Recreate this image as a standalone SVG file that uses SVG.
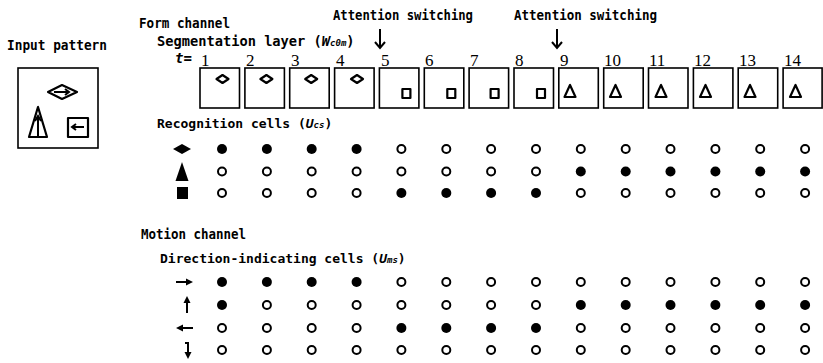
<svg xmlns="http://www.w3.org/2000/svg" width="823" height="363" viewBox="0 0 823 363">
  <style>
    .lbl{font-family:"DejaVu Sans Mono","Liberation Mono",monospace;font-weight:bold;font-size:14px;fill:#000}
    .sub{font-style:italic;font-size:9px}
    .it{font-style:italic}
    .num{font-family:"Liberation Serif",serif;font-size:17px;fill:#000}
    .box{fill:#fff;stroke:#000;stroke-width:1.6}
    .shp{fill:none;stroke:#000;stroke-width:2.2;stroke-linejoin:round}
    .ln{fill:none;stroke:#000;stroke-width:2}
    .on{fill:#000}
    .off{fill:#fff;stroke:#000;stroke-width:2}
  </style>
  <defs>
    <circle id="on" r="5" class="on"/>
    <circle id="off" r="4" class="off"/>
    <path id="dia" class="shp" d="M-6,0 L0,-4 L6,0 L0,4 Z"/>
    <rect id="sq" class="shp" x="0" y="0" width="8" height="9"/>
    <path id="tri" class="shp" d="M0,-6 L-5.5,6 L5.5,6 Z"/>
  </defs>
  <rect width="823" height="363" fill="#fff"/>

  <!-- input pattern -->
  <g id="input">
    <text class="lbl" x="7" y="50" textLength="100" lengthAdjust="spacingAndGlyphs">Input pattern</text>
    <rect class="box" x="18" y="68" width="80" height="80"/>
    <path class="shp" d="M48,92 L62,85 L77,92 L62,99 Z"/>
    <path class="ln" d="M54,92 H69 M65,89 L69,92 L65,95"/>
    <path class="shp" d="M38,107 L29,137 L47,137 Z"/>
    <path class="ln" d="M38,137 V117 M35,121 L38,116 L41,121"/>
    <rect class="shp" x="68" y="118" width="20" height="19"/>
    <path class="ln" d="M84,127 H72 M76,124 L72,127 L76,130"/>
  </g>

  <!-- form channel headings -->
  <g id="form-labels">
    <text class="lbl" x="139" y="28" textLength="91" lengthAdjust="spacingAndGlyphs">Form channel</text>
    <text class="lbl" x="157" y="46" style="font-size:13.7px">Segmentation layer (<tspan class="it">W</tspan><tspan class="sub">c0m</tspan>)</text>
    <text class="lbl it" x="175" y="63">t=</text>
    <text class="lbl" x="333" y="20" textLength="140" lengthAdjust="spacingAndGlyphs">Attention switching</text>
    <text class="lbl" x="514" y="20" textLength="143" lengthAdjust="spacingAndGlyphs">Attention switching</text>
    <text class="lbl" x="157" y="128" style="font-size:13px">Recognition cells (<tspan class="it">U</tspan><tspan class="sub">cs</tspan>)</text>
  </g>

  <!-- attention switching arrows -->
  <g id="connectors">
    <path class="ln" d="M380,29 V48 M375,42 L380,48 L385,42"/>
    <path class="ln" d="M557,29 V48 M552,42 L557,48 L562,42"/>
  </g>

  <!-- segmentation layer frames t=1..14 -->
  <g id="frames">
    <g id="t1"><text class="num" x="201" y="66">1</text><rect class="box" x="200" y="68" width="39.5" height="40"/><use href="#dia" x="222.5" y="79"/></g>
    <g id="t2"><text class="num" x="246" y="66">2</text><rect class="box" x="244.9" y="68" width="39.5" height="40"/><use href="#dia" x="266.4" y="79"/></g>
    <g id="t3"><text class="num" x="291" y="66">3</text><rect class="box" x="289.7" y="68" width="39.5" height="40"/><use href="#dia" x="311.2" y="79"/></g>
    <g id="t4"><text class="num" x="336" y="66">4</text><rect class="box" x="334.6" y="68" width="39.5" height="40"/><use href="#dia" x="357" y="79"/></g>
    <g id="t5"><text class="num" x="381" y="66">5</text><rect class="box" x="379.4" y="68" width="39.5" height="40"/><use href="#sq" x="402.4" y="89"/></g>
    <g id="t6"><text class="num" x="425" y="66">6</text><rect class="box" x="424.3" y="68" width="39.5" height="40"/><use href="#sq" x="447.3" y="89"/></g>
    <g id="t7"><text class="num" x="470" y="66">7</text><rect class="box" x="469.1" y="68" width="39.5" height="40"/><use href="#sq" x="490.6" y="89"/></g>
    <g id="t8"><text class="num" x="515" y="66">8</text><rect class="box" x="514" y="68" width="39.5" height="40"/><use href="#sq" x="537" y="89"/></g>
    <g id="t9"><text class="num" x="560" y="66">9</text><rect class="box" x="558.8" y="68" width="39.5" height="40"/><use href="#tri" x="570" y="91"/></g>
    <g id="t10"><text class="num" x="604" y="66">10</text><rect class="box" x="603.7" y="68" width="39.5" height="40"/><use href="#tri" x="615.5" y="91"/></g>
    <g id="t11"><text class="num" x="649" y="66">11</text><rect class="box" x="648.5" y="68" width="39.5" height="40"/><use href="#tri" x="661" y="91"/></g>
    <g id="t12"><text class="num" x="694" y="66">12</text><rect class="box" x="693.4" y="68" width="39.5" height="40"/><use href="#tri" x="705.5" y="91"/></g>
    <g id="t13"><text class="num" x="739" y="66">13</text><rect class="box" x="738.2" y="68" width="39.5" height="40"/><use href="#tri" x="750" y="91"/></g>
    <g id="t14"><text class="num" x="784" y="66">14</text><rect class="box" x="783.1" y="68" width="39" height="40"/><use href="#tri" x="795.5" y="91"/></g>
  </g>

  <!-- recognition cells -->
  <g id="recognition">
    <path d="M173,149 L182,144 L191,149 L182,154 Z" fill="#000"/>
    <path d="M182,162 L175.5,181 L188.5,181 Z" fill="#000"/>
    <rect x="177" y="187" width="11" height="12" fill="#000"/>
    <g id="uc-diamond">
      <use href="#on" x="222" y="149"/><use href="#on" x="266.9" y="149"/><use href="#on" x="311.7" y="149"/><use href="#on" x="356.6" y="149"/>
      <use href="#off" x="401.4" y="149"/><use href="#off" x="446.3" y="149"/><use href="#off" x="491.1" y="149"/><use href="#off" x="536" y="149"/>
      <use href="#off" x="580.8" y="149"/><use href="#off" x="625.7" y="149"/><use href="#off" x="670.5" y="149"/><use href="#off" x="715.4" y="149"/><use href="#off" x="760.2" y="149"/><use href="#off" x="805.1" y="149"/>
    </g>
    <g id="uc-triangle">
      <use href="#off" x="222" y="171.5"/><use href="#off" x="266.9" y="171.5"/><use href="#off" x="311.7" y="171.5"/><use href="#off" x="356.6" y="171.5"/>
      <use href="#off" x="401.4" y="171.5"/><use href="#off" x="446.3" y="171.5"/><use href="#off" x="491.1" y="171.5"/><use href="#off" x="536" y="171.5"/>
      <use href="#on" x="580.8" y="171.5"/><use href="#on" x="625.7" y="171.5"/><use href="#on" x="670.5" y="171.5"/><use href="#on" x="715.4" y="171.5"/><use href="#on" x="760.2" y="171.5"/><use href="#on" x="805.1" y="171.5"/>
    </g>
    <g id="uc-square">
      <use href="#off" x="222" y="193"/><use href="#off" x="266.9" y="193"/><use href="#off" x="311.7" y="193"/><use href="#off" x="356.6" y="193"/>
      <use href="#on" x="401.4" y="193"/><use href="#on" x="446.3" y="193"/><use href="#on" x="491.1" y="193"/><use href="#on" x="536" y="193"/>
      <use href="#off" x="580.8" y="193"/><use href="#off" x="625.7" y="193"/><use href="#off" x="670.5" y="193"/><use href="#off" x="715.4" y="193"/><use href="#off" x="760.2" y="193"/><use href="#off" x="805.1" y="193"/>
    </g>
  </g>

  <!-- motion channel -->
  <g id="motion">
    <text class="lbl" x="141" y="239" textLength="105" lengthAdjust="spacingAndGlyphs">Motion channel</text>
    <text class="lbl" x="160" y="263" style="font-size:13px">Direction-indicating cells (<tspan class="it">U</tspan><tspan class="sub">ms</tspan>)</text>
    <path class="ln" d="M176,282 H187"/><path d="M186,278.5 L193,282 L186,285.5 Z" fill="#000"/>
    <path class="ln" d="M187,313 V302"/><path d="M183.5,303 L187,296 L190.5,303 Z" fill="#000"/>
    <path class="ln" d="M193,328 H182"/><path d="M183,324.5 L176,328 L183,331.5 Z" fill="#000"/>
    <path class="ln" d="M188,342 V353 M185,343 H189"/><path d="M184.5,352 L188,359 L191.5,352 Z" fill="#000"/>
    <g id="um-right">
      <use href="#on" x="222" y="282"/><use href="#on" x="266.9" y="282"/><use href="#on" x="311.7" y="282"/><use href="#on" x="356.6" y="282"/>
      <use href="#off" x="401.4" y="282"/><use href="#off" x="446.3" y="282"/><use href="#off" x="491.1" y="282"/><use href="#off" x="536" y="282"/>
      <use href="#off" x="580.8" y="282"/><use href="#off" x="625.7" y="282"/><use href="#off" x="670.5" y="282"/><use href="#off" x="715.4" y="282"/><use href="#off" x="760.2" y="282"/><use href="#off" x="805.1" y="282"/>
    </g>
    <g id="um-up">
      <use href="#on" x="222" y="305"/><use href="#off" x="266.9" y="305"/><use href="#off" x="311.7" y="305"/><use href="#off" x="356.6" y="305"/>
      <use href="#off" x="401.4" y="305"/><use href="#off" x="446.3" y="305"/><use href="#off" x="491.1" y="305"/><use href="#off" x="536" y="305"/>
      <use href="#on" x="580.8" y="305"/><use href="#on" x="625.7" y="305"/><use href="#on" x="670.5" y="305"/><use href="#on" x="715.4" y="305"/><use href="#on" x="760.2" y="305"/><use href="#on" x="805.1" y="305"/>
    </g>
    <g id="um-left">
      <use href="#off" x="222" y="328"/><use href="#off" x="266.9" y="328"/><use href="#off" x="311.7" y="328"/><use href="#off" x="356.6" y="328"/>
      <use href="#on" x="401.4" y="328"/><use href="#on" x="446.3" y="328"/><use href="#on" x="491.1" y="328"/><use href="#on" x="536" y="328"/>
      <use href="#off" x="580.8" y="328"/><use href="#off" x="625.7" y="328"/><use href="#off" x="670.5" y="328"/><use href="#off" x="715.4" y="328"/><use href="#off" x="760.2" y="328"/><use href="#off" x="805.1" y="328"/>
    </g>
    <g id="um-down">
      <use href="#off" x="222" y="350"/><use href="#off" x="266.9" y="350"/><use href="#off" x="311.7" y="350"/><use href="#off" x="356.6" y="350"/>
      <use href="#off" x="401.4" y="350"/><use href="#off" x="446.3" y="350"/><use href="#off" x="491.1" y="350"/><use href="#off" x="536" y="350"/>
      <use href="#off" x="580.8" y="350"/><use href="#off" x="625.7" y="350"/><use href="#off" x="670.5" y="350"/><use href="#off" x="715.4" y="350"/><use href="#off" x="760.2" y="350"/><use href="#off" x="805.1" y="350"/>
    </g>
  </g>
</svg>
